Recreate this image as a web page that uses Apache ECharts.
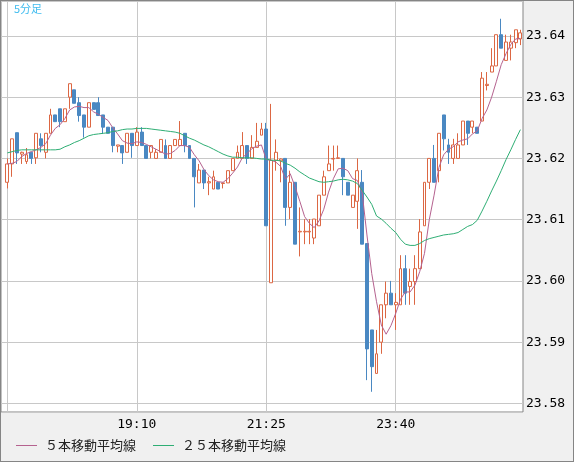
<!DOCTYPE html>
<html>
<head>
<meta charset="utf-8">
<script src="https://cdn.jsdelivr.net/npm/echarts@6/dist/echarts.min.js"></script>
<style>
  html, body {
    margin: 0;
    padding: 0;
    background: #f0f0f0;
  }

  #wrap {
    position: relative;
    width: 574px;
    height: 462px;
  }

  #chart {
    width: 574px;
    height: 462px;
  }

  #frame {
    position: absolute;
    left: 0;
    top: 0;
    right: 0;
    bottom: 0;
    border: 1px solid #858585;
    pointer-events: none;
  }
</style>
</head>
<body>
<div id="wrap">
  <div id="chart"></div>
  <div id="frame"></div>
</div>
<script>
const times = [
  "16:55",
  "17:00", "17:05", "17:10", "17:15", "17:20", "17:25", "17:30", "17:35", "17:40", "17:45", "17:50", "17:55",
  "18:00", "18:05", "18:10", "18:15", "18:20", "18:25", "18:30", "18:35", "18:40", "18:45", "18:50", "18:55",
  "19:00", "19:05", "19:10", "19:15", "19:20", "19:25", "19:30", "19:35", "19:40", "19:45", "19:50", "19:55",
  "20:00", "20:05", "20:10", "20:15", "20:20", "20:25", "20:30", "20:35", "20:40", "20:45", "20:50", "20:55",
  "21:00", "21:05", "21:10", "21:15", "21:20", "21:25", "21:30", "21:35", "21:40", "21:45", "21:50", "21:55",
  "22:00", "22:05", "22:10", "22:15", "22:20", "22:25", "22:30", "22:35", "22:40", "22:45", "22:50", "22:55",
  "23:00", "23:05", "23:10", "23:15", "23:20", "23:25", "23:30", "23:35", "23:40", "23:45", "23:50", "23:55",
  "00:00", "00:05", "00:10", "00:15", "00:20", "00:25", "00:30", "00:35", "00:40", "00:45", "00:50", "00:55",
  "01:00", "01:05", "01:10", "01:15", "01:20", "01:25", "01:30", "01:35", "01:40", "01:45", "01:50",
];

const opens = [
  23.6161, 23.6191, 23.6242, 23.6207, 23.6195, 23.6210, 23.6201, 23.6232, 23.6210, 23.6241,
  23.6271, 23.6281, 23.6260, 23.6300, 23.6312, 23.6291, 23.6271, 23.6251, 23.6291, 23.6291,
  23.6271, 23.6251, 23.6251, 23.6220, 23.6221, 23.6210, 23.6241, 23.6221, 23.6243, 23.6221,
  23.6210, 23.6200, 23.6210, 23.6221, 23.6200, 23.6221, 23.6221, 23.6241, 23.6221, 23.6200,
  23.6160, 23.6181, 23.6160, 23.6150, 23.6161, 23.6159, 23.6160, 23.6180, 23.6200, 23.6200,
  23.6221, 23.6200, 23.6218, 23.6238, 23.6248, 23.5997, 23.6197, 23.6196, 23.6200, 23.6120,
  23.6161, 23.6080, 23.6080, 23.6080, 23.6070, 23.6090, 23.6140, 23.6180, 23.6199, 23.6200,
  23.6200, 23.6161, 23.6120, 23.6130, 23.6161, 23.6061, 23.5920, 23.5849, 23.5900, 23.5961,
  23.5980, 23.5961, 23.5961, 23.6020, 23.5991, 23.5999, 23.6020, 23.6090, 23.6161, 23.6200,
  23.6180, 23.6271, 23.6222, 23.6200, 23.6200, 23.6222, 23.6261, 23.6251, 23.6251, 23.6261,
  23.6319, 23.6341, 23.6351, 23.6402, 23.6360, 23.6380, 23.6389, 23.6395,
];

const closes = [
  23.6191, 23.6232, 23.6209, 23.6210, 23.6206, 23.6200, 23.6241, 23.6221, 23.6241, 23.6271,
  23.6260, 23.6260, 23.6281, 23.6322, 23.6290, 23.6270, 23.6251, 23.6291, 23.6280, 23.6270,
  23.6251, 23.6241, 23.6221, 23.6222, 23.6209, 23.6241, 23.6221, 23.6243, 23.6221, 23.6200,
  23.6221, 23.6210, 23.6231, 23.6200, 23.6221, 23.6231, 23.6231, 23.6221, 23.6200, 23.6170,
  23.6181, 23.6160, 23.6162, 23.6170, 23.6150, 23.6160, 23.6180, 23.6200, 23.6210, 23.6221,
  23.6200, 23.6218, 23.6228, 23.6248, 23.6090, 23.6197, 23.6210, 23.6199, 23.6120, 23.6161,
  23.6060, 23.6081, 23.6081, 23.6081, 23.6101, 23.6140, 23.6170, 23.6191, 23.6200, 23.6201,
  23.6170, 23.6140, 23.6140, 23.6180, 23.6060, 23.5889, 23.5860, 23.5881, 23.5961, 23.5980,
  23.5961, 23.5965, 23.6020, 23.5980, 23.5999, 23.6020, 23.6080, 23.6161, 23.6200, 23.6161,
  23.6241, 23.6232, 23.6210, 23.6222, 23.6222, 23.6261, 23.6241, 23.6261, 23.6241, 23.6331,
  23.6321, 23.6351, 23.6402, 23.6380, 23.6390, 23.6390, 23.6410, 23.6405,
];

const lows = [
  23.6151, 23.6170, 23.6191, 23.6191, 23.6191, 23.6191, 23.6191, 23.6210, 23.6200, 23.6241,
  23.6260, 23.6251, 23.6260, 23.6281, 23.6290, 23.6260, 23.6234, 23.6251, 23.6280, 23.6270,
  23.6240, 23.6241, 23.6210, 23.6210, 23.6191, 23.6210, 23.6201, 23.6221, 23.6221, 23.6200,
  23.6200, 23.6200, 23.6210, 23.6200, 23.6200, 23.6221, 23.6221, 23.6210, 23.6200, 23.6120,
  23.6160, 23.6150, 23.6140, 23.6150, 23.6150, 23.6151, 23.6160, 23.6180, 23.6200, 23.6200,
  23.6191, 23.6200, 23.6218, 23.6238, 23.6090, 23.5997, 23.6180, 23.6161, 23.6090, 23.6101,
  23.6060, 23.6040, 23.6060, 23.6060, 23.6060, 23.6090, 23.6140, 23.6180, 23.6180, 23.6200,
  23.6140, 23.6140, 23.6120, 23.6085, 23.6060, 23.5838, 23.5819, 23.5849, 23.5881, 23.5939,
  23.5961, 23.5920, 23.5961, 23.5961, 23.5961, 23.5961, 23.6020, 23.6090, 23.6150, 23.6161,
  23.6161, 23.6213, 23.6191, 23.6191, 23.6200, 23.6222, 23.6222, 23.6241, 23.6241, 23.6261,
  23.6311, 23.6341, 23.6351, 23.6380, 23.6360, 23.6360, 23.6380, 23.6385,
];

const highs = [
  23.6200, 23.6232, 23.6242, 23.6211, 23.6217, 23.6210, 23.6241, 23.6241, 23.6241, 23.6281,
  23.6271, 23.6281, 23.6281, 23.6322, 23.6312, 23.6300, 23.6271, 23.6291, 23.6291, 23.6300,
  23.6271, 23.6251, 23.6251, 23.6222, 23.6221, 23.6241, 23.6241, 23.6251, 23.6251, 23.6221,
  23.6221, 23.6215, 23.6231, 23.6231, 23.6221, 23.6231, 23.6261, 23.6241, 23.6221, 23.6200,
  23.6191, 23.6181, 23.6170, 23.6180, 23.6161, 23.6160, 23.6180, 23.6200, 23.6221, 23.6243,
  23.6221, 23.6238, 23.6258, 23.6258, 23.6258, 23.6289, 23.6231, 23.6200, 23.6200, 23.6180,
  23.6161, 23.6120, 23.6101, 23.6101, 23.6101, 23.6140, 23.6180, 23.6221, 23.6221, 23.6221,
  23.6200, 23.6161, 23.6140, 23.6200, 23.6181, 23.6061, 23.5920, 23.5920, 23.5961, 23.5999,
  23.6000, 23.5980, 23.6042, 23.6042, 23.6020, 23.6042, 23.6101, 23.6161, 23.6200, 23.6222,
  23.6241, 23.6271, 23.6232, 23.6232, 23.6241, 23.6261, 23.6261, 23.6261, 23.6251, 23.6341,
  23.6341, 23.6380, 23.6402, 23.6428, 23.6402, 23.6402, 23.6410, 23.6410,
];

const ma5 = [
  23.6191, 23.6192, 23.6195, 23.6203, 23.6208, 23.6211, 23.6214, 23.6218, 23.6224, 23.6238,
  23.6249, 23.6255, 23.6265, 23.6279, 23.6284, 23.6285, 23.6283, 23.6283, 23.6276, 23.6272,
  23.6267, 23.6262, 23.6250, 23.6240, 23.6229, 23.6225, 23.6224, 23.6227, 23.6226, 23.6223,
  23.6219, 23.6215, 23.6211, 23.6207, 23.6208, 23.6213, 23.6221, 23.6221, 23.6218, 23.6206,
  23.6196, 23.6182, 23.6172, 23.6165, 23.6162, 23.6161, 23.6167, 23.6176, 23.6186, 23.6201,
  23.6208, 23.6216, 23.6220, 23.6222, 23.6198, 23.6197, 23.6194, 23.6187, 23.6166, 23.6175,
  23.6154, 23.6130, 23.6105, 23.6094, 23.6087, 23.6098, 23.6117, 23.6145, 23.6167, 23.6183,
  23.6184, 23.6180, 23.6167, 23.6164, 23.6144, 23.6075, 23.6012, 23.5966, 23.5928, 23.5913,
  23.5927, 23.5947, 23.5970, 23.5982, 23.5982, 23.5993, 23.6015, 23.6045, 23.6100, 23.6140,
  23.6185, 23.6206, 23.6215, 23.6219, 23.6227, 23.6230, 23.6232, 23.6240, 23.6245, 23.6265,
  23.6279, 23.6300, 23.6326, 23.6353, 23.6371, 23.6386, 23.6395, 23.6396,
];

const ma25 = [
  23.6209, 23.6211, 23.6213, 23.6214, 23.6214, 23.6214, 23.6214, 23.6214, 23.6214, 23.6214,
  23.6214, 23.6215, 23.6219, 23.6222, 23.6226, 23.6229, 23.6233, 23.6237, 23.6239, 23.6240,
  23.6241, 23.6242, 23.6244, 23.6245, 23.6247, 23.6248, 23.6248, 23.6249, 23.6249, 23.6249,
  23.6248, 23.6247, 23.6246, 23.6245, 23.6244, 23.6243, 23.6241, 23.6237, 23.6233, 23.6230,
  23.6226, 23.6222, 23.6219, 23.6215, 23.6211, 23.6207, 23.6204, 23.6202, 23.6202, 23.6201,
  23.6201, 23.6201, 23.6200, 23.6199, 23.6199, 23.6197, 23.6197, 23.6196, 23.6192, 23.6189,
  23.6184, 23.6178, 23.6173, 23.6168, 23.6165, 23.6162, 23.6161, 23.6162, 23.6163, 23.6165,
  23.6166, 23.6165, 23.6163, 23.6159, 23.6148, 23.6137, 23.6125, 23.6106, 23.6101, 23.6094,
  23.6086, 23.6079, 23.6068, 23.6060, 23.6058, 23.6058, 23.6061, 23.6066, 23.6069, 23.6071,
  23.6073, 23.6075, 23.6076, 23.6077, 23.6079, 23.6084, 23.6089, 23.6092, 23.6099, 23.6114,
  23.6130, 23.6147, 23.6163, 23.6180, 23.6198, 23.6214, 23.6231, 23.6247,
];

// price range that fills the plot box top to bottom
const priceMin = 23.5786;
const priceMax = 23.6457;

const labelStep = 27;

const gridColor = "#c8c8c8";
const upColor = "#dc6743";
const downColor = "#4a88c2";
const ma5Color = "#b5628f";
const ma25Color = "#2eae74";
const monoFont = "'DejaVu Sans Mono', monospace";
const cjkFont = "'Noto Sans CJK JP', sans-serif";


const chart = echarts.init(
  document.getElementById("chart"),
);

const candles = opens.map((open, index) => {
  return [
    open,
    closes[index],
    lows[index],
    highs[index],
  ];
});

chart.setOption({
  animation: false,
  title: {
    text: "5分足",
    left: 14,
    top: 3,
    padding: 0,
    textStyle: {
      color: "#40bcef",
      fontSize: 11,
      fontWeight: "normal",
      fontFamily: cjkFont,
    },
  },
  legend: {
    left: 16,
    top: 439,
    padding: 0,
    icon: "rect",
    itemWidth: 21,
    itemHeight: 1,
    itemGap: 17,
    data: [
      "５本移動平均線",
      "２５本移動平均線",
    ],
    textStyle: {
      color: "#222",
      fontSize: 13,
      fontFamily: cjkFont,
      padding: [0, 0, 0, 3],
    },
  },
  grid: [
    {
      left: 1,
      top: 1,
      width: 522,
      height: 411,
      show: true,
      backgroundColor: "#ffffff",
      borderColor: "#858585",
      borderWidth: 1,
    },
    {
      left: 7.3,
      top: 1,
      width: 513.1,
      height: 411,
    },
  ],
  xAxis: [
    {
      gridIndex: 0,
      type: "value",
      show: false,
      min: 0,
      max: 1,
    },
    {
      gridIndex: 1,
      type: "category",
      data: times,
      boundaryGap: false,
      axisLine: { show: false },
      axisTick: { show: false },
      axisLabel: {
        interval: (index) => index > 0 && index % labelStep === 0,
        margin: 6,
        color: "#000",
        fontSize: 13,
        fontFamily: monoFont,
      },
      splitLine: {
        show: true,
        interval: (index) => index % labelStep === 0,
        lineStyle: {
          color: gridColor,
          width: 1,
        },
      },
    },
  ],
  yAxis: [
    {
      gridIndex: 0,
      type: "value",
      position: "right",
      min: priceMin,
      max: priceMax,
      axisLine: { show: false },
      axisTick: { show: false },
      axisLabel: {
        showMinLabel: false,
        showMaxLabel: false,
        margin: 3,
        color: "#000",
        fontSize: 13,
        fontFamily: monoFont,
        formatter: (value) => value.toFixed(2),
      },
      splitLine: {
        show: true,
        lineStyle: {
          color: gridColor,
          width: 1,
        },
      },
    },
    {
      gridIndex: 1,
      type: "value",
      show: false,
      min: priceMin,
      max: priceMax,
      splitLine: { show: false },
    },
  ],
  series: [
    {
      type: "candlestick",
      xAxisIndex: 1,
      yAxisIndex: 1,
      data: candles,
      barWidth: 3.4,
      clip: false,
      itemStyle: {
        color: "#ffffff",
        color0: downColor,
        borderColor: upColor,
        borderColor0: downColor,
        borderWidth: 1,
      },
    },
    {
      name: "５本移動平均線",
      type: "line",
      xAxisIndex: 1,
      yAxisIndex: 1,
      data: ma5,
      symbol: "none",
      clip: false,
      color: ma5Color,
      lineStyle: {
        width: 1,
        color: ma5Color,
      },
    },
    {
      name: "２５本移動平均線",
      type: "line",
      xAxisIndex: 1,
      yAxisIndex: 1,
      data: ma25,
      symbol: "none",
      clip: false,
      color: ma25Color,
      lineStyle: {
        width: 1,
        color: ma25Color,
      },
    },
  ],
});
</script>
</body>
</html>
